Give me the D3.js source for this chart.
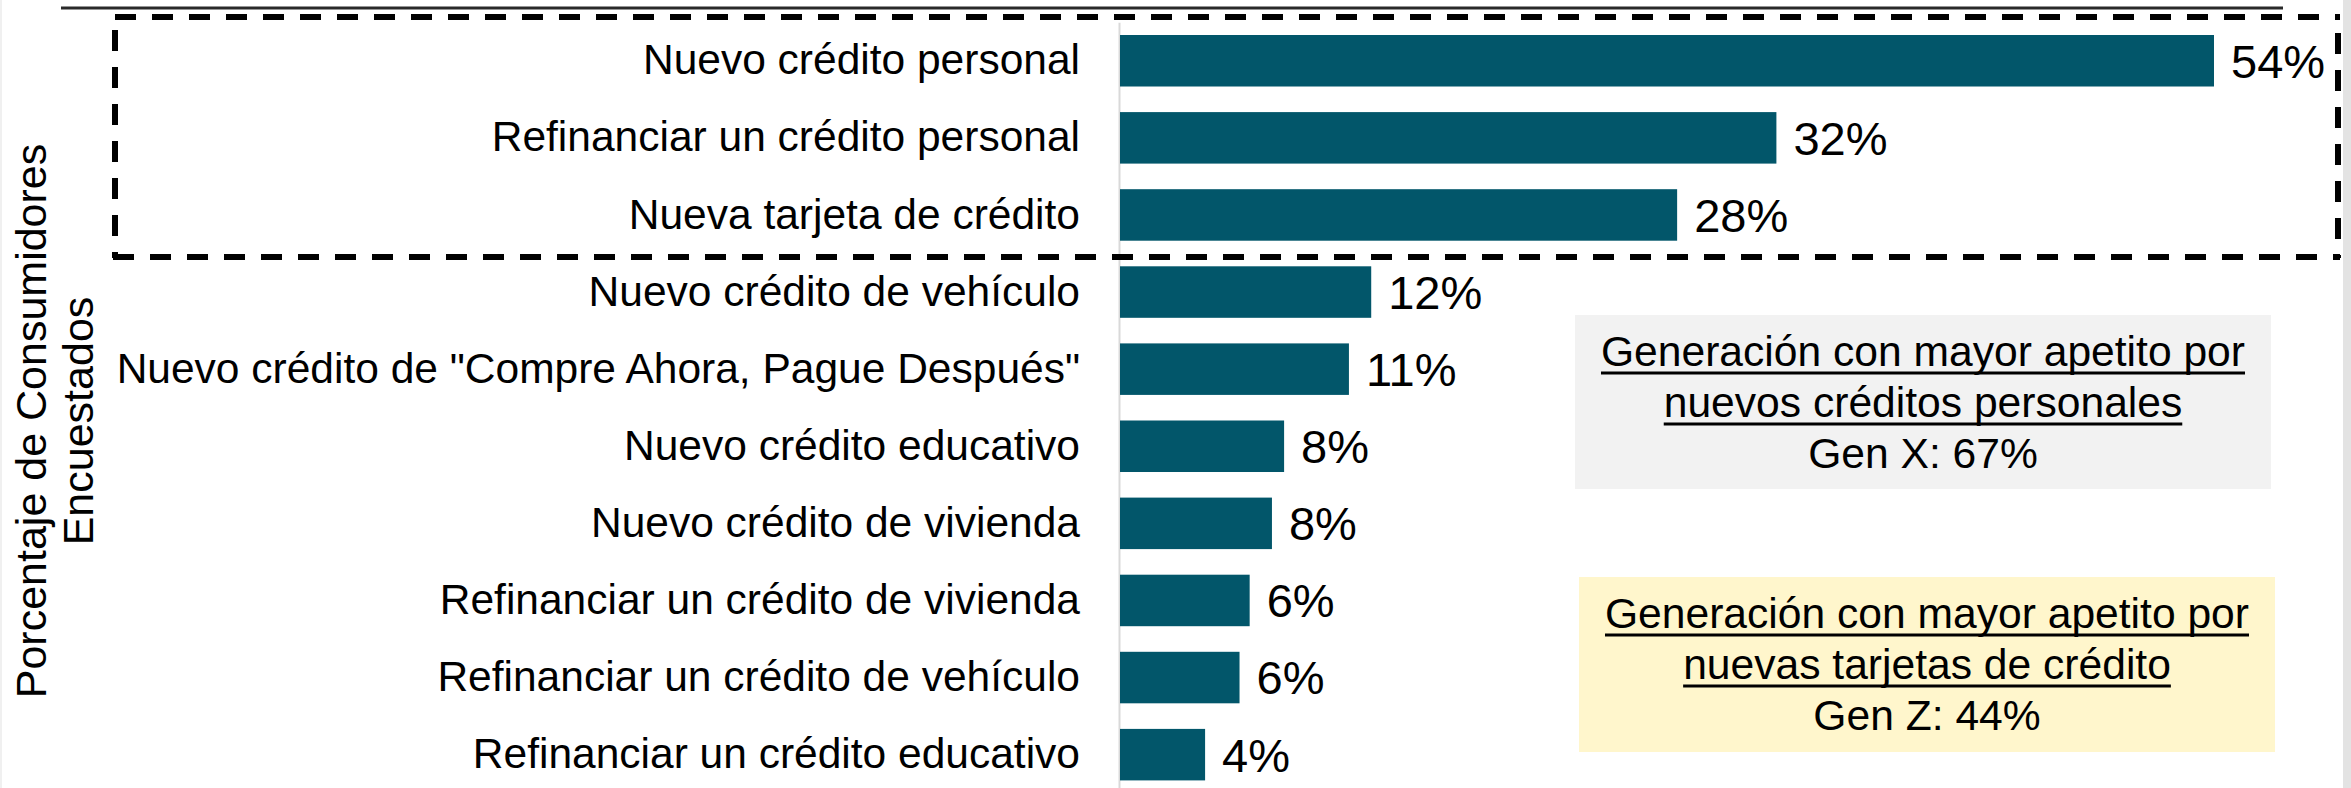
<!DOCTYPE html>
<html>
<head>
<meta charset="utf-8">
<script src="https://cdn.jsdelivr.net/npm/d3@7"></script>
<style>
  html, body { margin: 0; padding: 0; background: #ffffff; }
  svg { display: block; }
  text { font-family: "Liberation Sans", Arial, sans-serif; fill: #000; }
</style>
</head>
<body>
<svg id="chart" width="2351" height="788"></svg>
<script>
// ---- Data ----
const categories = [
  "Nuevo crédito personal",
  "Refinanciar un crédito personal",
  "Nueva tarjeta de crédito",
  "Nuevo crédito de vehículo",
  "Nuevo crédito de \"Compre Ahora, Pague Después\"",
  "Nuevo crédito educativo",
  "Nuevo crédito de vivienda",
  "Refinanciar un crédito de vivienda",
  "Refinanciar un crédito de vehículo",
  "Refinanciar un crédito educativo"
];
const values = [0.54, 0.324, 0.275, 0.124, 0.113, 0.081, 0.075, 0.064, 0.059, 0.042];
const valueLabels = ["54%", "32%", "28%", "12%", "11%", "8%", "8%", "6%", "6%", "4%"];
const yTitleLines = ["Porcentaje de Consumidores", "Encuestados"];
const grayBoxLines = ["Generación con mayor apetito por", "nuevos créditos personales", "Gen X: 67%"];
const yellowBoxLines = ["Generación con mayor apetito por", "nuevas tarjetas de crédito", "Gen Z: 44%"];

// ---- Layout ----
const svg = d3.select("#chart");
const axisX = 1119;
const barX0 = 1120;
const barColor = "#02566a";

const x = d3.scaleLinear().domain([0, 0.54]).range([barX0, 2214]);
const step = 77.1;
const y = d3.scaleBand()
  .domain(categories)
  .range([35 - 0.166 * step, 35 - 0.166 * step + categories.length * step])
  .paddingInner(0.332)
  .paddingOuter(0.166);

// edge strips
svg.append("rect").attr("x", 2343).attr("y", 0).attr("width", 8).attr("height", 788).attr("fill", "#e3e3e3");
svg.append("rect").attr("x", 0).attr("y", 0).attr("width", 2).attr("height", 788).attr("fill", "#f0f0f0");

// top rule
svg.append("line").attr("x1", 61).attr("x2", 2283).attr("y1", 8).attr("y2", 8)
  .attr("stroke", "#2a2a2a").attr("stroke-width", 3);

// gen boxes
function genBox(x0, y0, w, h, fill, lines) {
  const g = svg.append("g");
  g.append("rect").attr("x", x0).attr("y", y0).attr("width", w).attr("height", h).attr("fill", fill);
  const cx = x0 + w / 2;
  lines.forEach((t, i) => {
    const txt = g.append("text")
      .attr("x", cx).attr("y", y0 + 51 + i * 51)
      .attr("text-anchor", "middle")
      .attr("font-size", 42.6)
      .text(t);
    if (i < 2) {
      const len = txt.node().getComputedTextLength();
      g.append("line")
        .attr("x1", cx - len / 2).attr("x2", cx + len / 2)
        .attr("y1", y0 + 51 + i * 51 + 7).attr("y2", y0 + 51 + i * 51 + 7)
        .attr("stroke", "#000").attr("stroke-width", 3);
    }
  });
}
genBox(1575, 315, 696, 174, "#f2f2f2", grayBoxLines);
genBox(1579, 577, 696, 175, "#fff6cc", yellowBoxLines);

// axis
const axis = d3.axisLeft(y).tickSize(0).tickSizeOuter(0).tickPadding(39);
const ag = svg.append("g").attr("transform", `translate(${axisX},0)`).call(axis);
ag.select(".domain").attr("stroke", "#d9d9d9").attr("stroke-width", 2);
ag.selectAll(".tick text")
  .attr("font-size", 42.5)
  .attr("fill", "#000")
  .attr("font-family", "\"Liberation Sans\", Arial, sans-serif");

// bars
svg.append("g").selectAll("rect")
  .data(categories)
  .join("rect")
  .attr("x", barX0)
  .attr("y", d => y(d))
  .attr("width", (d, i) => x(values[i]) - barX0)
  .attr("height", y.bandwidth())
  .attr("fill", barColor);

// value labels
svg.append("g").selectAll("text")
  .data(categories)
  .join("text")
  .attr("x", (d, i) => x(values[i]) + 17)
  .attr("y", d => y(d) + y.bandwidth() / 2)
  .attr("dy", "0.36em")
  .attr("font-size", 47)
  .text((d, i) => valueLabels[i]);

// dashed highlight box
const dash = { stroke: "#000", "stroke-width": 6, "stroke-dasharray": "21 16" };
function dline(x1, y1, x2, y2) {
  const l = svg.append("line").attr("x1", x1).attr("y1", y1).attr("x2", x2).attr("y2", y2);
  Object.entries(dash).forEach(([k, v]) => l.attr(k, v));
}
dline(115, 17, 2340, 17);
dline(113, 257, 2340, 257);
dline(115, 30, 115, 258);
dline(2338, 33, 2338, 258);

// y title
yTitleLines.forEach((t, i) => {
  svg.append("text")
    .attr("transform", `translate(${46 + i * 47},421) rotate(-90)`)
    .attr("text-anchor", "middle")
    .attr("font-size", 43)
    .text(t);
});
</script>
</body>
</html>
